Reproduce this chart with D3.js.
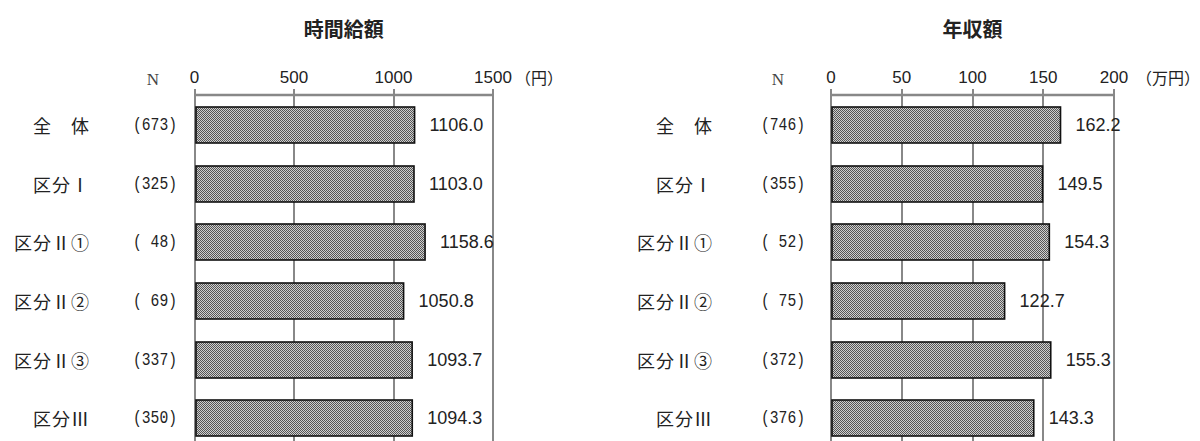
<!DOCTYPE html>
<html><head><meta charset="utf-8">
<script src="https://cdn.jsdelivr.net/npm/d3@7"></script>
<style>html,body{margin:0;padding:0;background:#fff;}svg{display:block;}</style>
</head><body>
<svg id="c" width="1200" height="441"></svg>
<script>
const categories = ["全　体", "区分Ⅰ", "区分Ⅱ①", "区分Ⅱ②", "区分Ⅱ③", "区分Ⅲ"];
const hourlyN = ["(673)", "(325)", "( 48)", "( 69)", "(337)", "(350)"];
const hourlyValues = [1106.0, 1103.0, 1158.6, 1050.8, 1093.7, 1094.3];
const hourlyTicks = [0, 500, 1000, 1500];
const annualN = ["(746)", "(355)", "( 52)", "( 75)", "(372)", "(376)"];
const annualValues = [162.2, 149.5, 154.3, 122.7, 155.3, 143.3];
const annualTicks = [0, 50, 100, 150, 200];

const svg = d3.select("#c");
const defs = svg.append("defs");
const pat = defs.append("pattern").attr("id","dots").attr("patternUnits","userSpaceOnUse")
  .attr("width",2).attr("height",2);
pat.append("rect").attr("width",2).attr("height",2).attr("fill","#cfcfcf");
pat.append("rect").attr("width",1).attr("height",1).attr("fill","#555");
pat.append("rect").attr("x",1).attr("y",1).attr("width",1).attr("height",1).attr("fill","#555");

const jp = "'Noto Sans CJK JP', sans-serif";
const roman = /[ⅠⅡⅢ]/;
const CELL = 19;

function panel(opt){
  const g = svg.append("g");
  const x = d3.scaleLinear().domain([0, opt.max]).range([opt.x0, opt.x1]);
  const y = d3.scaleBand().domain(categories).range([96, 96 + 58.6*6]).paddingInner(0.385).paddingOuter(0.19);
  g.append("text").attr("x",(opt.x0+opt.x1)/2).attr("y",28).attr("text-anchor","middle")
    .attr("dominant-baseline","central").attr("font-family",jp).attr("font-weight","bold")
    .attr("font-size",20).attr("fill","#222").text(opt.title);
  g.selectAll("line.grid").data(opt.ticks).join("line").attr("class","grid")
    .attr("x1",d=>Math.round(x(d))).attr("x2",d=>Math.round(x(d))).attr("y1",89).attr("y2",441)
    .attr("stroke","#888").attr("stroke-width",2);
  g.append("line").attr("x1",Math.round(x(0))).attr("x2",Math.round(x(opt.max))).attr("y1",95).attr("y2",95)
    .attr("stroke","#888").attr("stroke-width",2.5);
  g.selectAll("text.tick").data(opt.ticks).join("text").attr("class","tick")
    .attr("x",d=>x(d)).attr("y",77).attr("text-anchor","middle").attr("dominant-baseline","central")
    .attr("font-family","'Liberation Sans', Arial, sans-serif").attr("font-size",17).attr("fill","#222")
    .text(d=>d);
  g.append("text").attr("x",x(opt.max)+22).attr("y",77).attr("dominant-baseline","central")
    .attr("font-family",jp).attr("font-size",16).attr("fill","#222").text(opt.unit);
  g.append("text").attr("x",opt.nx).attr("y",79).attr("text-anchor","middle").attr("dominant-baseline","central")
    .attr("font-family","'Liberation Serif', serif").attr("font-size",17).attr("fill","#444").text("N");
  const cats = g.selectAll("text.cat").data(categories).join("text").attr("class","cat")
    .attr("y",d=>y(d)+y.bandwidth()/2).attr("text-anchor","end")
    .attr("dominant-baseline","central").attr("font-family",jp).attr("font-size",18)
    .attr("letter-spacing",1).attr("fill","#222");
  cats.each(function(d){
    const t = d3.select(this);
    const chars = Array.from(d);
    let pendingPad = 0;
    chars.forEach((ch, i) => {
      const sp = t.append("tspan").text(ch);
      if (pendingPad) { sp.attr("dx", pendingPad); pendingPad = 0; }
      if (roman.test(ch)) {
        const w = sp.node().getComputedTextLength();
        const pad = Math.max(0, (CELL - w) / 2);
        sp.attr("dx", pad);
        pendingPad = pad;
      }
    });
    t.attr("x", opt.catX - pendingPad);
  });
  g.selectAll("text.n").data(opt.n).join("text").attr("class","n")
    .attr("x",opt.nEnd).attr("y",(d,i)=>y(categories[i])+y.bandwidth()/2).attr("text-anchor","end")
    .attr("dominant-baseline","central").attr("font-family","'Liberation Mono', monospace")
    .attr("font-size",19).attr("fill","#222").attr("textLength",44).attr("lengthAdjust","spacingAndGlyphs")
    .text(d=>d);
  g.selectAll("rect.bar").data(opt.values).join("rect").attr("class","bar")
    .attr("x",Math.round(x(0))+1).attr("y",(d,i)=>Math.round(y(categories[i])))
    .attr("width",d=>x(d)-Math.round(x(0))-1).attr("height",Math.round(y.bandwidth()))
    .attr("fill","url(#dots)").attr("stroke","#111").attr("stroke-width",1.6);
  g.selectAll("text.val").data(opt.values).join("text").attr("class","val")
    .attr("x",d=>x(d)+15).attr("y",(d,i)=>y(categories[i])+y.bandwidth()/2)
    .attr("dominant-baseline","central").attr("font-family","'Liberation Sans', Arial, sans-serif")
    .attr("font-size",18).attr("fill","#222").text(d=>d.toFixed(1));
}

panel({title:"時間給額", unit:"（円）", max:1500, ticks:hourlyTicks, values:hourlyValues, n:hourlyN,
  x0:194.5, x1:493, nx:153, nEnd:177, catX:90});
panel({title:"年収額", unit:"（万円）", max:200, ticks:annualTicks, values:annualValues, n:annualN,
  x0:831, x1:1114, nx:778, nEnd:805, catX:713});
</script>
</body></html>
